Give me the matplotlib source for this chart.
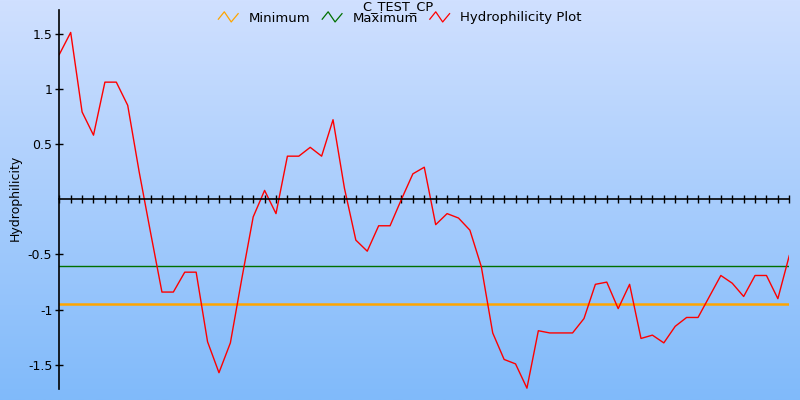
import numpy as np
import matplotlib
matplotlib.use("Agg")
import matplotlib.pyplot as plt
from matplotlib.legend_handler import HandlerBase
from matplotlib.lines import Line2D

# hydrophilicity values per residue window
hydro = [1.31, 1.51, 0.79, 0.58, 1.06, 1.06, 0.85, 0.25, -0.30, -0.84,
         -0.84, -0.66, -0.66, -1.29, -1.57, -1.30, -0.72, -0.16, 0.08, -0.13,
         0.39, 0.39, 0.47, 0.39, 0.72, 0.10, -0.37, -0.47, -0.24, -0.24,
         0.00, 0.23, 0.29, -0.23, -0.13, -0.17, -0.28, -0.61, -1.21, -1.45,
         -1.49, -1.71, -1.19, -1.21, -1.21, -1.21, -1.08, -0.77, -0.75, -0.99,
         -0.77, -1.26, -1.23, -1.30, -1.15, -1.07, -1.07, -0.88, -0.69, -0.76,
         -0.88, -0.69, -0.69, -0.90, -0.51]
positions = list(range(1, len(hydro) + 1))
minimum = -0.95
maximum = -0.60
yticks = [-1.5, -1, -0.5, 0.5, 1, 1.5]
ytick_labels = ["-1.5", "-1", "-0.5", "0.5", "1", "1.5"]


class ZigZag(HandlerBase):
    # small zigzag icon like the original legend
    def create_artists(self, legend, orig, xd, yd, w, h, fontsize, trans):
        xs = np.array([0.0, 0.3, 0.65, 1.0]) * w - xd
        ys = np.array([0.25, 1.05, -0.05, 0.85]) * h - yd
        ln = Line2D(xs, ys, color=orig.get_color(), lw=0.9)
        ln.set_transform(trans)
        return [ln]


plt.rcParams["font.family"] = "DejaVu Sans"
fig = plt.figure(figsize=(8, 4), dpi=100)

# gradient background
bg = fig.add_axes([0, 0, 1, 1], zorder=-10)
grad = np.linspace(0, 1, 256).reshape(-1, 1)
top = np.array([208, 224, 255]) / 255
bot = np.array([128, 186, 250]) / 255
img = top[None, None, :] * (1 - grad[:, :, None]) + bot[None, None, :] * grad[:, :, None]
bg.imshow(img, aspect="auto", extent=[0, 1, 0, 1])
bg.axis("off")

ax = fig.add_axes([0.0741, 0.0268, 0.9125, 0.9482])
ax.patch.set_alpha(0)

l_min = ax.axhline(minimum, color="#ffa500", lw=1.8, label="Minimum")
l_max = ax.axhline(maximum, color="#007000", lw=1.0, label="Maximum")
l_h, = ax.plot(positions, hydro, color="red", lw=1.0, label="Hydrophilicity Plot")

ax.set_xlim(positions[0], positions[-1])
ax.set_ylim(-1.72, 1.713)

ax.spines["top"].set_visible(False)
ax.spines["right"].set_visible(False)
ax.spines["bottom"].set_position(("data", 0))
ax.spines["left"].set_linewidth(1.2)
ax.spines["bottom"].set_linewidth(1.2)

ax.set_xticks(positions)
ax.set_xticklabels([])
ax.tick_params(axis="x", direction="inout", length=6, width=1)
ax.set_yticks(yticks)
ax.set_yticklabels(ytick_labels)
ax.tick_params(axis="y", direction="inout", length=6, width=1, labelsize=9, pad=2)

fig.text(0.019, 0.505, "Hydrophilicity", rotation=90, ha="center", va="center", fontsize=9)
fig.text(0.4975, 1.0, "C_TEST_CP", ha="center", va="top", fontsize=9.3)

fig.legend(handles=[l_min, l_max, l_h], loc="center", bbox_to_anchor=(0.5, 0.955),
           ncol=3, frameon=False, fontsize=9.5, handler_map={Line2D: ZigZag()},
           handlelength=1.5, handletextpad=0.8, columnspacing=0.9, borderpad=0)

fig.savefig("out.png", dpi=100)
